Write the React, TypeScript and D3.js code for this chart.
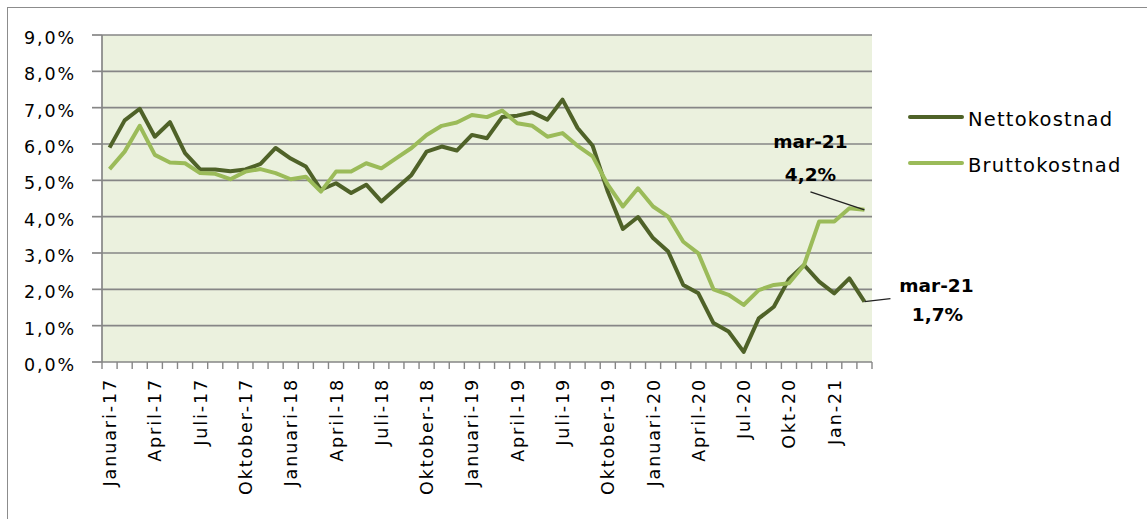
import React, { useEffect, useRef } from 'react';
import * as d3 from 'd3';

// monthly categories, januari 2017 - mars 2021
const months = [
    'jan-17', 'feb-17', 'mar-17', 'apr-17', 'maj-17', 'jun-17', 'jul-17', 'aug-17', 'sep-17', 'okt-17', 'nov-17', 'dec-17',
    'jan-18', 'feb-18', 'mar-18', 'apr-18', 'maj-18', 'jun-18', 'jul-18', 'aug-18', 'sep-18', 'okt-18', 'nov-18', 'dec-18',
    'jan-19', 'feb-19', 'mar-19', 'apr-19', 'maj-19', 'jun-19', 'jul-19', 'aug-19', 'sep-19', 'okt-19', 'nov-19', 'dec-19',
    'jan-20', 'feb-20', 'mar-20', 'apr-20', 'maj-20', 'jun-20', 'jul-20', 'aug-20', 'sep-20', 'okt-20', 'nov-20', 'dec-20',
    'jan-21', 'feb-21', 'mar-21',
];

const netto = [
    5.9, 6.65, 6.97, 6.2, 6.6, 5.75, 5.3, 5.3, 5.25, 5.3, 5.45, 5.89,
    5.6, 5.38, 4.74, 4.92, 4.65, 4.88, 4.42, 4.78, 5.15, 5.79, 5.93, 5.82,
    6.25, 6.16, 6.74, 6.78, 6.87, 6.67, 7.22, 6.44, 5.95, 4.69, 3.66, 3.99,
    3.41, 3.04, 2.12, 1.89, 1.07, 0.84, 0.28, 1.2, 1.52, 2.28, 2.67, 2.21,
    1.89, 2.3, 1.66,
];

const brutto = [
    5.31, 5.79, 6.5, 5.7, 5.49, 5.47, 5.2, 5.18, 5.03, 5.24, 5.31, 5.2,
    5.03, 5.1, 4.69, 5.24, 5.24, 5.47, 5.33, 5.61, 5.89, 6.25, 6.5, 6.59,
    6.8, 6.74, 6.92, 6.57, 6.5, 6.2, 6.3, 5.95, 5.66, 4.88, 4.28, 4.78,
    4.28, 4.0, 3.31, 2.99, 2.0, 1.85, 1.57, 1.98, 2.12, 2.17, 2.67, 3.87,
    3.87, 4.23, 4.19,
];

const tickMonths = [
    'jan-17', 'apr-17', 'jul-17', 'okt-17', 'jan-18', 'apr-18', 'jul-18', 'okt-18', 'jan-19',
    'apr-19', 'jul-19', 'okt-19', 'jan-20', 'apr-20', 'jul-20', 'okt-20', 'jan-21',
];
const tickLabels = [
    'Januari-17', 'April-17', 'Juli-17', 'Oktober-17', 'Januari-18', 'April-18', 'Juli-18', 'Oktober-18', 'Januari-19',
    'April-19', 'Juli-19', 'Oktober-19', 'Januari-20', 'April-20', 'Jul-20', 'Okt-20', 'Jan-21',
];

const yTicks = [0, 1, 2, 3, 4, 5, 6, 7, 8, 9];

const seriesNames = ['Nettokostnad', 'Bruttokostnad'];
const colors = ['#4f6228', '#9bbb59'];

const Chart = () => {
    const ref = useRef<SVGSVGElement | null>(null);

    useEffect(() => {
        const svg = d3.select(ref.current);
        svg.selectAll('*').remove();

        const left = 102, right = 872, top = 35, bottom = 362;
        const font = '"DejaVu Sans", Verdana, sans-serif';
        const grey = '#868686';

        const x = d3.scaleBand().domain(months).range([left, right]).padding(0);
        const cx = (m: string) => (x(m) as number) + x.bandwidth() / 2;
        const y = d3.scaleLinear().domain([0, 9]).range([bottom, top]);

        // outer frame
        svg.append('rect')
            .attr('x', 7.5).attr('y', 7.5)
            .attr('width', 1300).attr('height', 700)
            .attr('fill', '#fff')
            .attr('stroke', '#8c8c8c')
            .attr('stroke-width', 1);

        // plot background
        svg.append('rect')
            .attr('x', left).attr('y', top)
            .attr('width', right - left).attr('height', bottom - top)
            .attr('fill', '#ebf1de');

        // gridlines
        svg.append('g')
            .selectAll('line')
            .data(yTicks.filter(d => d > 0))
            .join('line')
            .attr('x1', left).attr('x2', right)
            .attr('y1', d => y(d)).attr('y2', d => y(d))
            .attr('stroke', grey)
            .attr('stroke-width', 1.7);

        // y axis
        const yAxis = svg.append('g');
        yAxis.append('line')
            .attr('x1', left).attr('x2', left)
            .attr('y1', top).attr('y2', bottom)
            .attr('stroke', grey).attr('stroke-width', 1.7);
        yAxis.selectAll('line.tick')
            .data(yTicks)
            .join('line')
            .attr('class', 'tick')
            .attr('x1', left - 10).attr('x2', left)
            .attr('y1', d => y(d)).attr('y2', d => y(d))
            .attr('stroke', grey).attr('stroke-width', 1.7);
        yAxis.selectAll('text')
            .data(yTicks)
            .join('text')
            .attr('x', 76)
            .attr('y', d => y(d) + 9)
            .attr('text-anchor', 'end')
            .attr('font-family', font)
            .attr('font-size', 17.5)
            .attr('letter-spacing', 1.9)
            .attr('fill', '#000')
            .text(d => d3.format('.1f')(d).replace('.', ',') + '%');

        // x axis
        const xAxis = svg.append('g');
        xAxis.append('line')
            .attr('x1', left).attr('x2', right)
            .attr('y1', bottom).attr('y2', bottom)
            .attr('stroke', grey).attr('stroke-width', 1.7);
        xAxis.selectAll('line.tick')
            .data([...months, null])
            .join('line')
            .attr('class', 'tick')
            .attr('x1', d => (d ? (x(d) as number) : right))
            .attr('x2', d => (d ? (x(d) as number) : right))
            .attr('y1', bottom).attr('y2', bottom + 7)
            .attr('stroke', grey).attr('stroke-width', 1.4);
        xAxis.selectAll('text')
            .data(tickMonths)
            .join('text')
            .attr('transform', d => `translate(${cx(d) + 6.5},378) rotate(-90)`)
            .attr('text-anchor', 'end')
            .attr('font-family', font)
            .attr('font-size', 17.5)
            .attr('letter-spacing', 1.9)
            .attr('fill', '#000')
            .text((d, i) => tickLabels[i]);

        // lines
        const line = d3.line<number>()
            .x((d, i) => cx(months[i]))
            .y(d => y(d));

        [netto, brutto].forEach((s, k) => {
            svg.append('path')
                .datum(s)
                .attr('fill', 'none')
                .attr('stroke', colors[k])
                .attr('stroke-width', 4)
                .attr('stroke-linejoin', 'round')
                .attr('d', line);
        });

        // legend
        const legend = svg.append('g');
        seriesNames.forEach((name, k) => {
            const ly = 117 + k * 46;
            legend.append('line')
                .attr('x1', 910).attr('x2', 962)
                .attr('y1', ly).attr('y2', ly)
                .attr('stroke', colors[k])
                .attr('stroke-width', 4)
                .attr('stroke-linecap', 'round');
            legend.append('text')
                .attr('x', 968).attr('y', ly + 9)
                .attr('font-family', font)
                .attr('font-size', 19.5)
                .attr('letter-spacing', 1.2)
                .attr('fill', '#000')
                .text(name);
        });

        // end labels
        const last = months.length - 1;
        const pct = (v: number) => d3.format('.1f')(v).replace('.', ',') + '%';
        const lx = cx(months[last]);

        const bY = y(brutto[last]);
        svg.append('line')
            .attr('x1', lx - 54).attr('y1', bY - 18)
            .attr('x2', lx).attr('y2', bY)
            .attr('stroke', '#222').attr('stroke-width', 1.3);
        svg.append('text')
            .attr('x', lx - 54).attr('y', bY - 62)
            .attr('text-anchor', 'middle')
            .attr('font-family', font).attr('font-weight', 'bold')
            .attr('font-size', 18.5).attr('fill', '#000')
            .text(months[last]);
        svg.append('text')
            .attr('x', lx - 54).attr('y', bY - 29)
            .attr('text-anchor', 'middle')
            .attr('font-family', font).attr('font-weight', 'bold')
            .attr('font-size', 18.5).attr('fill', '#000')
            .text(pct(brutto[last]));

        const nY = y(netto[last]);
        svg.append('line')
            .attr('x1', lx).attr('y1', nY)
            .attr('x2', lx + 26).attr('y2', nY - 3)
            .attr('stroke', '#222').attr('stroke-width', 1.3);
        svg.append('text')
            .attr('x', lx + 72).attr('y', nY - 10)
            .attr('text-anchor', 'middle')
            .attr('font-family', font).attr('font-weight', 'bold')
            .attr('font-size', 18.5).attr('fill', '#000')
            .text(months[last]);
        svg.append('text')
            .attr('x', lx + 73).attr('y', nY + 19)
            .attr('text-anchor', 'middle')
            .attr('font-family', font).attr('font-weight', 'bold')
            .attr('font-size', 18.5).attr('fill', '#000')
            .text(pct(netto[last]));
    }, []);

    return (
        <svg
            ref={ref}
            width={1147}
            height={519}
            style={{ position: 'absolute', left: 0, top: 0 }}
        />
    );
};

export default function App() {
    return <Chart />;
}
